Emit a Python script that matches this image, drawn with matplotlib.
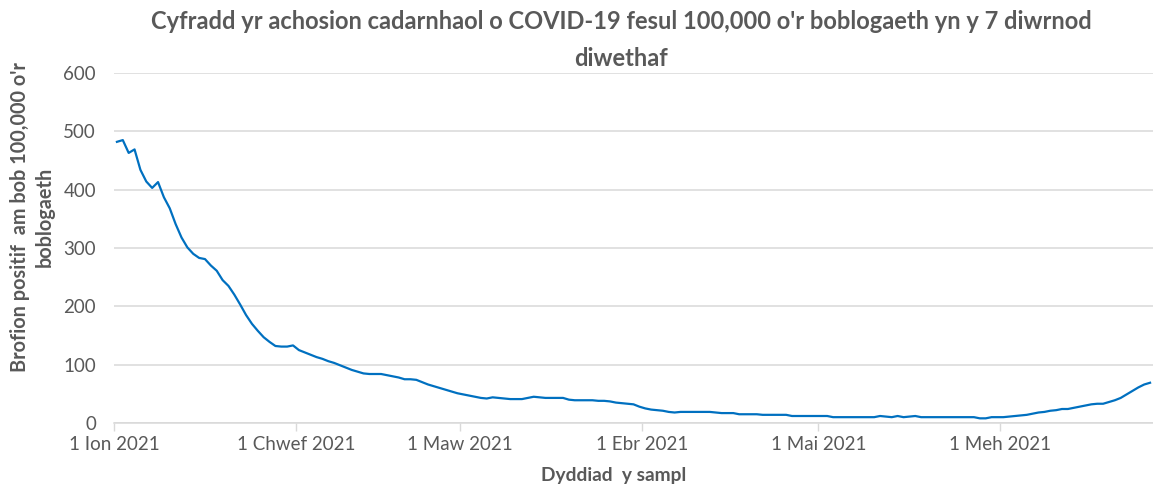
import matplotlib
matplotlib.use("Agg")
import matplotlib.pyplot as plt
import pandas as pd

start_date = "2021-01-01"
rate = [
    482, 485, 463, 469, 434, 414, 403, 413, 387, 368, 341, 318, 301, 290, 283, 281,
    270, 261, 245, 235, 220, 203, 185, 170, 158, 147, 139, 132, 131, 131, 133, 125,
    121, 117, 113, 110, 106, 103, 99, 95, 91, 88, 85, 84, 84, 84, 82, 80, 78, 75,
    75, 74, 70, 66, 63, 60, 57, 54, 51, 49, 47, 45, 43, 42, 44, 43, 42, 41, 41, 41,
    43, 45, 44, 43, 43, 43, 43, 40, 39, 39, 39, 39, 38, 38, 37, 35, 34, 33, 32, 28,
    25, 23, 22, 21, 19, 18, 19, 19, 19, 19, 19, 19, 18, 17, 17, 17, 15, 15, 15, 15,
    14, 14, 14, 14, 14, 12, 12, 12, 12, 12, 12, 12, 10, 10, 10, 10, 10, 10, 10, 10,
    12, 11, 10, 12, 10, 11, 12, 10, 10, 10, 10, 10, 10, 10, 10, 10, 10, 8, 8, 10,
    10, 10, 11, 12, 13, 14, 16, 18, 19, 21, 22, 24, 24, 26, 28, 30, 32, 33, 33, 36,
    39, 43, 49, 55, 61, 66, 69,
]
tick_dates = ["2021-01-01", "2021-02-01", "2021-03-01", "2021-04-01", "2021-05-01", "2021-06-01"]
tick_labels = ["1 Ion 2021", "1 Chwef 2021", "1 Maw 2021", "1 Ebr 2021", "1 Mai 2021", "1 Meh 2021"]
y_ticks = [0, 100, 200, 300, 400, 500, 600]

title = "Cyfradd yr achosion cadarnhaol o COVID-19 fesul 100,000 o'r boblogaeth yn y 7 diwrnod\ndiwethaf"
xlabel = "Dyddiad  y sampl"
ylabel = "Brofion positif  am bob 100,000 o'r\nboblogaeth"

FONT = ["Lato", "DejaVu Sans"]
GREY = "#595959"
plt.rcParams["font.family"] = FONT

dates = pd.date_range(start_date, periods=len(rate), freq="D") + pd.Timedelta(hours=12)

fig = plt.figure(figsize=(11.53, 4.86), dpi=100)
ax = fig.add_axes([114 / 1153, 1 - 423 / 486, 1 - 114 / 1153, (423 - 73) / 486])

ax.plot(dates, rate, color="#0070c0", lw=1.6, solid_joinstyle="round")

ax.set_ylim(0, 600)
ax.set_yticks(y_ticks)
ax.set_xlim(pd.Timestamp(start_date), pd.Timestamp(start_date) + pd.Timedelta(days=len(rate)))
ax.set_xticks([pd.Timestamp(d) for d in tick_dates])
ax.set_xticklabels(tick_labels)

ax.grid(axis="y", color="#d9d9d9", lw=1.1)
ax.set_axisbelow(True)
for s in ["top", "right", "left"]:
    ax.spines[s].set_visible(False)
ax.spines["bottom"].set_color("#d9d9d9")
ax.spines["bottom"].set_linewidth(1.1)
ax.tick_params(axis="y", length=0, pad=13, labelsize=13.5, labelcolor=GREY)
ax.tick_params(axis="x", length=6, width=1, color="#d9d9d9", pad=3, labelsize=13.5, labelcolor=GREY)

fig.text(621 / 1153, 1 - 40 / 486, title, ha="center", va="center", fontsize=17, fontweight="bold",
         color=GREY, linespacing=1.75)
fig.text(614 / 1153, 1 - 475 / 486, xlabel, ha="center", va="center", fontsize=13.8,
         fontweight="bold", color=GREY)
fig.text(32 / 1153, 1 - 217 / 486, ylabel, ha="center", va="center", rotation=90, fontsize=14.3,
         fontweight="bold", color=GREY, linespacing=1.3)

fig.savefig("out.png", dpi=100, facecolor="white")
